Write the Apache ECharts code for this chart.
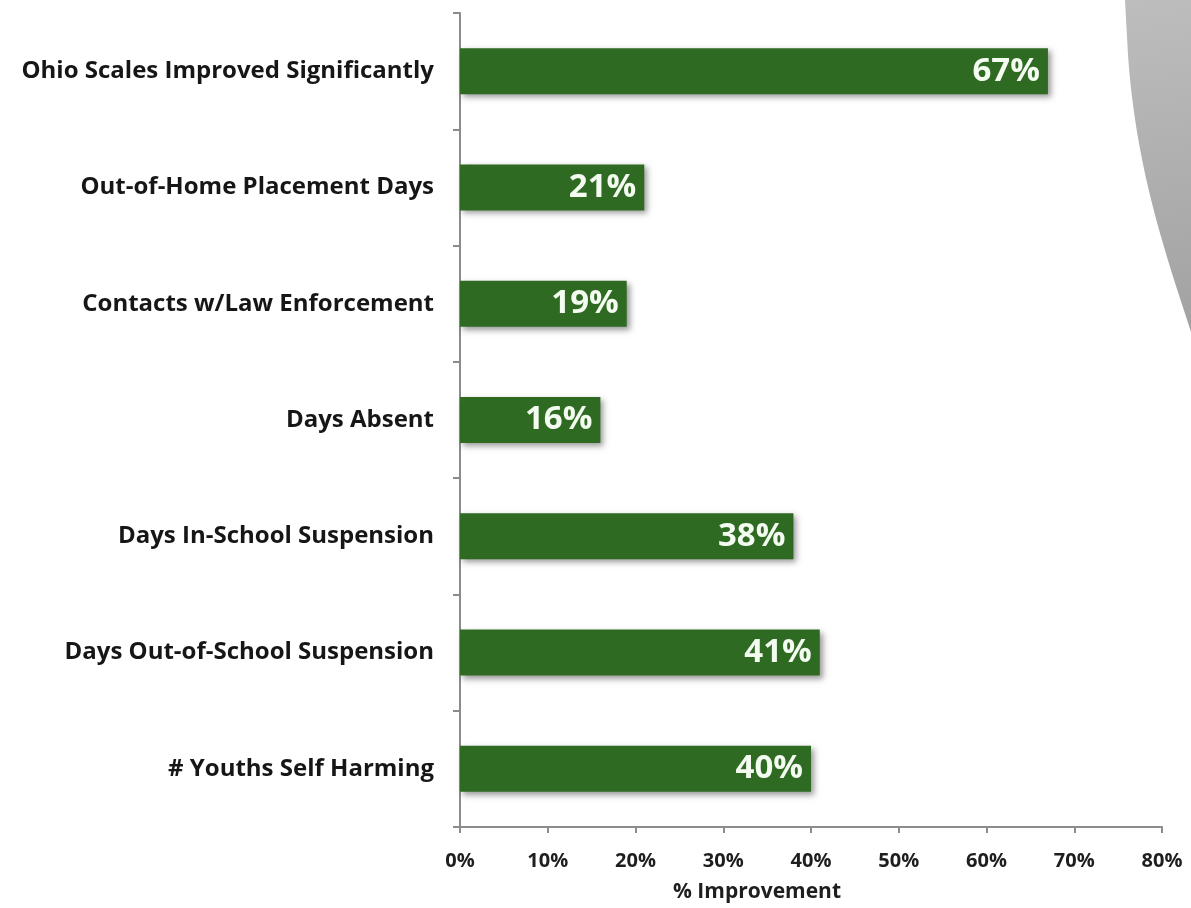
<!DOCTYPE html>
<html>
<head>
<meta charset="utf-8">
<script src="https://cdn.jsdelivr.net/npm/echarts@6/dist/echarts.min.js"></script>
<style>
  html, body { margin: 0; padding: 0; background: #ffffff; }
  #chart { width: 1191px; height: 908px; }
</style>
</head>
<body>
<div id="chart"></div>
<script>
// Outcome measures, listed top to bottom
const categories = [
  'Ohio Scales Improved Significantly',
  'Out-of-Home Placement Days',
  'Contacts w/Law Enforcement',
  'Days Absent',
  'Days In-School Suspension',
  'Days Out-of-School Suspension',
  '# Youths Self Harming'
];
// Percent improvement for each measure
const improvement = [67, 21, 19, 16, 38, 41, 40];
// Horizontal axis ticks
const xTicks = [0, 10, 20, 30, 40, 50, 60, 70, 80];

const FONT = '"Open Sans", "Liberation Sans", sans-serif';
const chart = echarts.init(document.getElementById('chart'));

// Decorative grey sweep along the top-right edge
function sweepOutline() {
  const pts = [[1125, 0], [1191, 0], [1191, 332]];
  const p0 = [1191, 332], c1 = [1166, 255], c2 = [1136, 170], p3 = [1128, 55];
  for (let i = 1; i <= 24; i++) {
    const t = i / 24, u = 1 - t;
    pts.push([
      u * u * u * p0[0] + 3 * u * u * t * c1[0] + 3 * u * t * t * c2[0] + t * t * t * p3[0],
      u * u * u * p0[1] + 3 * u * u * t * c1[1] + 3 * u * t * t * c2[1] + t * t * t * p3[1]
    ]);
  }
  return pts;
}

chart.setOption({
  backgroundColor: '#ffffff',
  animation: false,
  grid: { left: 460, right: 29, top: 13, bottom: 80, containLabel: false },
  graphic: [{
    type: 'polygon',
    z: -10,
    shape: { points: sweepOutline() },
    style: {
      fill: {
        type: 'linear', x: 0, y: 0, x2: 0.6, y2: 1,
        colorStops: [
          { offset: 0, color: '#bdbdbd' },
          { offset: 1, color: '#a2a2a2' }
        ]
      }
    }
  }],
  xAxis: {
    type: 'value',
    min: xTicks[0],
    max: xTicks[xTicks.length - 1],
    interval: 10,
    name: '% Improvement',
    nameLocation: 'middle',
    nameGap: 55,
    nameTextStyle: {
      fontFamily: FONT, fontSize: 21, fontWeight: 700, color: '#1e1e1e',
      padding: [0, 108, 0, 0]
    },
    axisLine: { show: true, lineStyle: { color: '#8c8c8c', width: 2 } },
    axisTick: { show: true, length: 6, lineStyle: { color: '#8c8c8c', width: 2 } },
    axisLabel: {
      formatter: v => v + '%',
      margin: 24,
      fontFamily: FONT, fontSize: 20, fontWeight: 700, color: '#1e1e1e'
    },
    splitLine: { show: false }
  },
  yAxis: {
    type: 'category',
    data: categories,
    inverse: true,
    axisLine: { show: true, lineStyle: { color: '#8c8c8c', width: 2 } },
    axisTick: { show: true, inside: false, length: 7, lineStyle: { color: '#8c8c8c', width: 2 } },
    axisLabel: {
      margin: 26,
      fontFamily: FONT, fontSize: 24, fontWeight: 700, color: '#161616'
    }
  },
  series: [{
    type: 'bar',
    data: improvement,
    barWidth: 46,
    itemStyle: {
      color: '#2e6a22',
      shadowColor: 'rgba(0,0,0,0.4)',
      shadowBlur: 6,
      shadowOffsetX: 3,
      shadowOffsetY: 3
    },
    label: {
      show: true,
      position: 'insideRight',
      distance: 8,
      formatter: p => p.value + '%',
      fontFamily: FONT, fontSize: 33, fontWeight: 700, color: '#f4fbf0'
    }
  }]
});
</script>
</body>
</html>
